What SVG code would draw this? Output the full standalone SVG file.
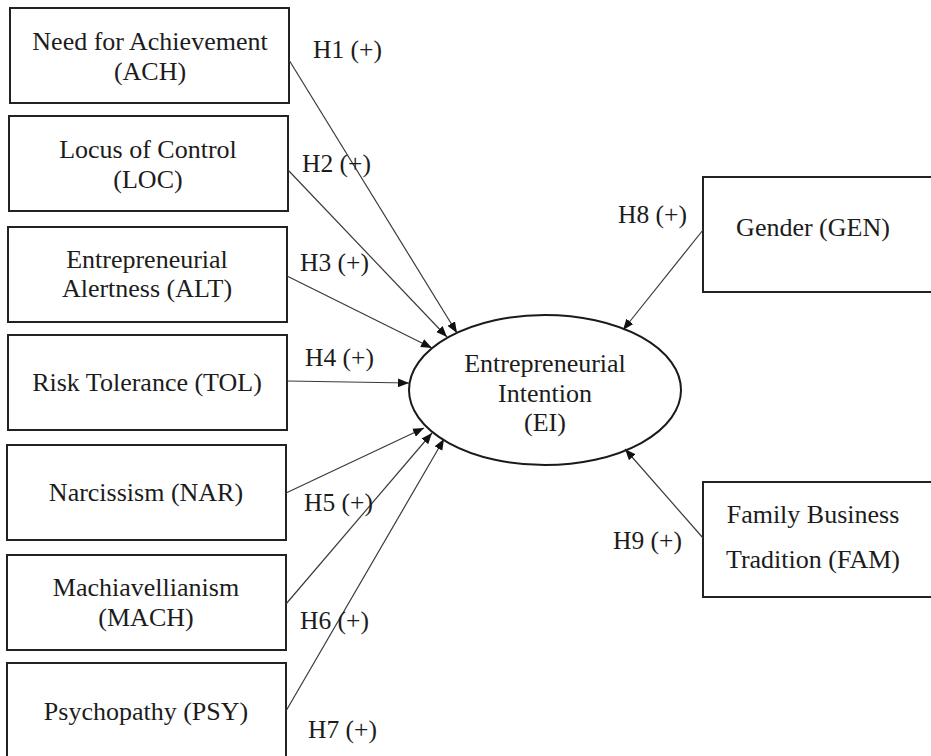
<svg xmlns="http://www.w3.org/2000/svg" width="931" height="756" viewBox="0 0 931 756">
  <style>
    .box { fill: #ffffff; stroke: #222222; stroke-width: 2; }
    .lbl { font-family: "Liberation Serif", "Times New Roman", serif; font-size: 26px; fill: #1c1c1c; text-anchor: middle; }
    .hyp { font-family: "Liberation Serif", "Times New Roman", serif; font-size: 25.5px; fill: #1c1c1c; }
    .edge { stroke: #3a3a3a; stroke-width: 1.2; fill: none; marker-end: url(#arrow); }
  </style>
  <defs>
    <marker id="arrow" viewBox="0 0 10 8" refX="10" refY="4" markerWidth="11" markerHeight="9" markerUnits="userSpaceOnUse" orient="auto">
      <path d="M0,0 L10,4 L0,8 Z" fill="#111111"/>
    </marker>
  </defs>
  <rect width="931" height="756" fill="#ffffff"/>

  <!-- predictor constructs -->
  <g id="ach">
    <rect class="box" x="10" y="8" width="279" height="95"/>
    <text class="lbl" x="150" y="50">Need for Achievement</text>
    <text class="lbl" x="150" y="80">(ACH)</text>
  </g>
  <g id="loc">
    <rect class="box" x="9" y="116" width="279" height="95"/>
    <text class="lbl" x="148" y="158">Locus of Control</text>
    <text class="lbl" x="148" y="188">(LOC)</text>
  </g>
  <g id="alt">
    <rect class="box" x="8" y="227" width="279" height="95"/>
    <text class="lbl" x="147" y="268">Entrepreneurial</text>
    <text class="lbl" x="147" y="297">Alertness (ALT)</text>
  </g>
  <g id="tol">
    <rect class="box" x="8" y="335" width="279" height="95"/>
    <text class="lbl" x="147" y="391">Risk Tolerance (TOL)</text>
  </g>
  <g id="nar">
    <rect class="box" x="7" y="445" width="279" height="95"/>
    <text class="lbl" x="146" y="501">Narcissism (NAR)</text>
  </g>
  <g id="mach">
    <rect class="box" x="7" y="555" width="279" height="95"/>
    <text class="lbl" x="146" y="596">Machiavellianism</text>
    <text class="lbl" x="146" y="626">(MACH)</text>
  </g>
  <g id="psy">
    <rect class="box" x="7" y="663" width="279" height="100"/>
    <text class="lbl" x="146" y="720">Psychopathy (PSY)</text>
  </g>

  <!-- control constructs -->
  <g id="gen">
    <rect class="box" x="703" y="177" width="235" height="115"/>
    <text class="lbl" x="813" y="236">Gender (GEN)</text>
  </g>
  <g id="fam">
    <rect class="box" x="703" y="482" width="235" height="115"/>
    <text class="lbl" x="813" y="523">Family Business</text>
    <text class="lbl" x="813" y="568">Tradition (FAM)</text>
  </g>

  <!-- outcome construct -->
  <g id="ei">
    <ellipse cx="545" cy="390" rx="136" ry="75" fill="#ffffff" stroke="#1a1a1a" stroke-width="2"/>
    <text class="lbl" x="545" y="372">Entrepreneurial</text>
    <text class="lbl" x="545" y="402">Intention</text>
    <text class="lbl" x="545" y="431">(EI)</text>
  </g>

  <!-- hypothesised paths -->
  <g id="connectors">
    <line class="edge" x1="289" y1="60" x2="457" y2="333"/>
    <line class="edge" x1="288" y1="170" x2="447" y2="337"/>
    <line class="edge" x1="287" y1="276" x2="432" y2="348"/>
    <line class="edge" x1="287" y1="381" x2="409" y2="383"/>
    <line class="edge" x1="286" y1="493" x2="424" y2="428"/>
    <line class="edge" x1="286" y1="604" x2="432" y2="433"/>
    <line class="edge" x1="286" y1="711" x2="444" y2="439"/>
    <line class="edge" x1="703" y1="230" x2="623" y2="330"/>
    <line class="edge" x1="703" y1="538" x2="625" y2="449"/>
  </g>

  <!-- hypothesis labels -->
  <g id="labels">
    <text class="hyp" x="313" y="58">H1 (+)</text>
    <text class="hyp" x="302" y="172">H2 (+)</text>
    <text class="hyp" x="300" y="271">H3 (+)</text>
    <text class="hyp" x="305" y="366">H4 (+)</text>
    <text class="hyp" x="304" y="511">H5 (+)</text>
    <text class="hyp" x="300" y="629">H6 (+)</text>
    <text class="hyp" x="308" y="738">H7 (+)</text>
    <text class="hyp" x="618" y="223">H8 (+)</text>
    <text class="hyp" x="613" y="549">H9 (+)</text>
  </g>
</svg>
